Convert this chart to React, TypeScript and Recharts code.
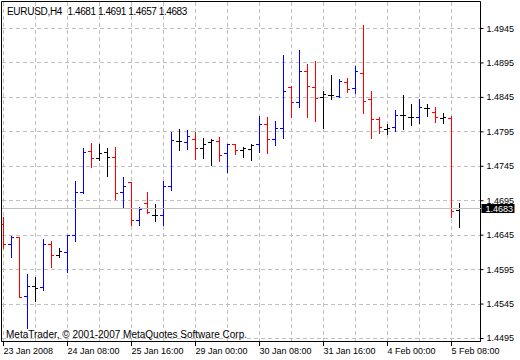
import React from "react"
import {
  Bar,
  CartesianGrid,
  ComposedChart,
  ReferenceArea,
  ReferenceLine,
  XAxis,
  YAxis,
} from "recharts"

// EURUSD H4 bars, oldest first
const opens = [
  1.466, 1.4632, 1.4642, 1.4556, 1.4571, 1.4569, 1.4631, 1.4615, 1.462, 1.4644,
  1.4707, 1.4767, 1.4757, 1.4765, 1.4758, 1.4707, 1.4721, 1.4666, 1.4691, 1.4674,
  1.4674, 1.4715, 1.4781, 1.478, 1.4784, 1.4771, 1.4779, 1.4781, 1.4763, 1.4776,
  1.4768, 1.4769, 1.4777, 1.4805, 1.4784, 1.48, 1.4859, 1.4838, 1.4882, 1.486,
  1.4845, 1.4848, 1.4847, 1.4867, 1.4858, 1.488, 1.4842, 1.4813, 1.4798, 1.4801,
  1.4819, 1.4816, 1.4816, 1.4829, 1.4823, 1.4815, 1.4815, 1.4681,
]
const highs = [
  1.4672, 1.4644, 1.4643, 1.4588, 1.4584, 1.4639, 1.4637, 1.4627, 1.4644, 1.4724,
  1.4771, 1.4779, 1.4777, 1.4771, 1.4773, 1.473, 1.4722, 1.4686, 1.4708, 1.469,
  1.4724, 1.4795, 1.4799, 1.4797, 1.4795, 1.4786, 1.4784, 1.4787, 1.4777, 1.4777,
  1.4773, 1.4777, 1.4818, 1.4817, 1.4811, 1.4907, 1.4861, 1.4914, 1.4893, 1.4898,
  1.4855, 1.4877, 1.4871, 1.4873, 1.489, 1.495, 1.4855, 1.4816, 1.4806, 1.4826,
  1.4848, 1.4835, 1.4842, 1.4836, 1.4831, 1.4823, 1.4818, 1.4691,
]
const lows = [
  1.4626, 1.4613, 1.4555, 1.451, 1.4549, 1.4565, 1.4599, 1.4614, 1.4591, 1.4636,
  1.4706, 1.4744, 1.4754, 1.4731, 1.4697, 1.4686, 1.466, 1.466, 1.4677, 1.4665,
  1.466, 1.4711, 1.4769, 1.477, 1.4756, 1.4757, 1.4747, 1.4753, 1.4737, 1.4763,
  1.4759, 1.4754, 1.4766, 1.4765, 1.4776, 1.4786, 1.4817, 1.4831, 1.4817, 1.4811,
  1.48, 1.4843, 1.4846, 1.4853, 1.4851, 1.4822, 1.4786, 1.4794, 1.4792, 1.4796,
  1.4799, 1.4805, 1.4808, 1.4818, 1.4809, 1.4808, 1.4671, 1.4657,
]
const closes = [
  1.4632, 1.4642, 1.4555, 1.4571, 1.4568, 1.4631, 1.4615, 1.4621, 1.4644, 1.4707,
  1.4765, 1.4757, 1.4764, 1.4758, 1.4706, 1.4715, 1.4666, 1.4682, 1.4678, 1.4674,
  1.4715, 1.4783, 1.4781, 1.4788, 1.4771, 1.4777, 1.4782, 1.4761, 1.4776, 1.4768,
  1.4771, 1.4775, 1.4806, 1.4784, 1.48, 1.4854, 1.4837, 1.4883, 1.4861, 1.4844,
  1.4849, 1.4848, 1.4868, 1.4857, 1.4882, 1.4839, 1.4813, 1.4801, 1.48, 1.4819,
  1.4819, 1.4816, 1.4831, 1.4829, 1.4816, 1.4816, 1.468, 1.4683,
]
// how the terminal painted each bar: 1 up (blue), -1 down (red), 0 neutral (black)
const signals = [
  -1, 1, -1, 1, 0, 1, -1, 0, 1, 1, 1, -1, 0, 0, -1, 1, -1, 1, -1, 0,
  1, 1, 0, 1, -1, 0, 0, -1, 1, -1, 0, 0, 1, -1, 1, 1, -1, 1, -1, -1,
  0, 0, 1, -1, 1, -1, -1, -1, 0, 1, 0, 0, 1, 0, -1, 0, -1, 0,
]

// one label every 8 bars (32 hours), grid every 4 bars
const timeLabels = [
  "23 Jan 2008",
  "24 Jan 08:00",
  "25 Jan 16:00",
  "29 Jan 00:00",
  "30 Jan 08:00",
  "31 Jan 16:00",
  "4 Feb 00:00",
  "5 Feb 08:00",
]
const priceTicks = [
  1.4495, 1.4545, 1.4595, 1.4645, 1.4695, 1.4745, 1.4795, 1.4845, 1.4895, 1.4945,
]
const symbolName = "EURUSD,H4"
const copyright = "MetaTrader, © 2001-2007 MetaQuotes Software Corp."

const LABEL_EVERY = 8
const GRID_EVERY = 4
const xDomain: [number, number] = [-0.25, 59.625]
const yDomain: [number, number] = [1.4490645, 1.4984194]
const FONT = "'Liberation Sans', Arial, sans-serif"

function colorOf(signal: number) {
  if (signal > 0) return "#0000ff"
  if (signal < 0) return "#ff0000"
  return "#000000"
}

const data = opens.map((o, i) => ({
  i,
  open: o,
  high: highs[i],
  low: lows[i],
  close: closes[i],
  signal: signals[i],
}))
const last = data[data.length - 1]
const gridTicks = timeLabels
  .flatMap((_, k) => [k * LABEL_EVERY, k * LABEL_EVERY + GRID_EVERY])
  .filter((v) => v > 0 && v < data.length)

function OhlcBar(props: any) {
  const { x, y, width, height, index } = props
  if (x == null || y == null) return null
  const row = data[index] ?? props.payload
  if (!row) return null
  const top = Math.min(y, y + height)
  const h = Math.abs(height)
  const span = row.high - row.low || 1
  const yOf = (v: number) => top + ((row.high - v) / span) * h
  const cx = x + width / 2
  const yo = yOf(row.open)
  const yc = yOf(row.close)
  const c = colorOf(row.signal)
  return (
    <g>
      <line x1={cx} x2={cx} y1={top} y2={top + h + 1} stroke={c} strokeWidth={1} shapeRendering="crispEdges" />
      <line x1={cx - 3} x2={cx} y1={yo} y2={yo} stroke={c} strokeWidth={1} shapeRendering="crispEdges" />
      <line x1={cx} x2={cx + 3} y1={yc} y2={yc} stroke={c} strokeWidth={1} shapeRendering="crispEdges" />
    </g>
  )
}

function TimeTick(props: any) {
  const { x, y, payload } = props
  const v = payload?.value
  if (v % LABEL_EVERY !== 0) return null
  return (
    <g>
      <line x1={x} x2={x} y1={y} y2={y + 4} stroke="#000" shapeRendering="crispEdges" />
      <text x={x} y={y + 12.5} fontSize={9} fontFamily={FONT} fill="#000">
        {timeLabels[v / LABEL_EVERY]}
      </text>
    </g>
  )
}

function PriceTick(props: any) {
  const { x, y, payload } = props
  return (
    <text x={x} y={y + 3} fontSize={9} fontFamily={FONT} fill="#000">
      {Number(payload.value).toFixed(4)}
    </text>
  )
}

function PriceTag(props: any) {
  const vb = props.viewBox
  if (!vb) return null
  const bx = vb.x + vb.width + 1
  return (
    <g>
      <rect x={bx} y={vb.y - 5} width={33} height={9} fill="#000" />
      <text x={bx + 4} y={vb.y + 3} fontSize={9} fontFamily={FONT} fill="#fff">
        {last.close.toFixed(4)}
      </text>
    </g>
  )
}

export default function App() {
  return (
    <div style={{ position: "absolute", left: 0, top: 0, width: 520, height: 360, background: "#fff" }}>
      <ComposedChart
        width={520}
        height={360}
        data={data}
        margin={{ top: 1.5, left: 1.5, right: 0, bottom: 0 }}
      >
        <CartesianGrid stroke="#c0c0c0" strokeDasharray="4 3" shapeRendering="crispEdges" />
        <XAxis
          dataKey="i"
          type="number"
          domain={xDomain}
          allowDataOverflow
          ticks={[0, ...gridTicks]}
          interval={0}
          height={18.5}
          axisLine={false}
          tickLine={false}
          tickSize={0}
          tickMargin={0}
          tick={<TimeTick />}
        />
        <YAxis
          orientation="right"
          type="number"
          domain={yDomain}
          allowDataOverflow
          ticks={priceTicks}
          interval={0}
          width={39.5}
          axisLine={false}
          tickLine={{ stroke: "#000" }}
          tickSize={3}
          tickMargin={3}
          tick={<PriceTick />}
        />
        <ReferenceLine y={last.close} stroke="#c0c0c0" shapeRendering="crispEdges" label={<PriceTag />} />
        <Bar
          dataKey={(d: any) => [d.low, d.high]}
          barSize={7}
          fill="none"
          stroke="none"
          activeBar={false}
          isAnimationActive={false}
          shape={(p: any) => <OhlcBar {...p} />}
        />
        <ReferenceArea
          x1={xDomain[0]}
          x2={xDomain[1]}
          y1={yDomain[0]}
          y2={yDomain[1]}
          fill="none"
          stroke="#000"
          strokeOpacity={1}
          ifOverflow="visible"
        />
      </ComposedChart>
      <svg
        width={520}
        height={360}
        style={{ position: "absolute", left: 0, top: 0, pointerEvents: "none" }}
      >
        <text x={7} y={15} fontSize={10} fontFamily={FONT} fill="#000" letterSpacing={-0.3}>
          {symbolName}
        </text>
        <text x={67.5} y={15} fontSize={10} fontFamily={FONT} fill="#000" letterSpacing={-0.42}>
          {[last.open, last.high, last.low, last.close].map((v) => v.toFixed(4)).join(" ")}
        </text>
        <text x={6} y={337.5} fontSize={10} fontFamily={FONT} fill="#000">
          {copyright}
        </text>
      </svg>
    </div>
  )
}
